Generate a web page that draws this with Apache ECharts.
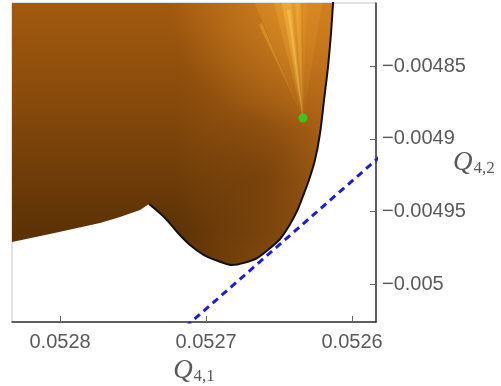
<!DOCTYPE html>
<html>
<head>
<meta charset="utf-8">
<script src="https://cdn.jsdelivr.net/npm/echarts@6/dist/echarts.min.js"></script>
<style>
  html, body { margin: 0; padding: 0; background: #ffffff; }
  #chart { width: 501px; height: 386px; }
</style>
</head>
<body>
<div id="chart"></div>
<script>
// Tick positions
const TICKS_X = [0.0528, 0.0527, 0.0526];
const TICKS_Y = [-0.00485, -0.0049, -0.00495, -0.005];

// Boundary curve of the region (black outline), from above the top edge down to the cusp
const curveX = [0.0526123, 0.0526130, 0.0526144, 0.0526165, 0.0526192, 0.0526219, 0.0526254,
                0.0526295, 0.0526336, 0.0526377, 0.0526432, 0.0526493, 0.0526569, 0.0526651,
                0.0526733, 0.0526822, 0.0526918, 0.0527014, 0.0527110, 0.0527192, 0.0527281,
                0.0527390];
const curveY = [-0.0047978, -0.0048067, -0.0048273, -0.0048507, -0.0048734, -0.0048960, -0.0049146,
                -0.0049283, -0.0049393, -0.0049496, -0.0049599, -0.0049688, -0.0049757, -0.0049819,
                -0.0049850, -0.0049867, -0.0049839, -0.0049798, -0.0049729, -0.0049647, -0.0049544,
                -0.0049448];

// Lower-left edge of the region (no outline), from the cusp out past the left side
const edgeX = [0.0527452, 0.0527589, 0.0527726, 0.0528069, 0.0528329, 0.0528479];
const edgeY = [-0.0049489, -0.0049537, -0.0049578, -0.0049654, -0.0049709, -0.0049743];

// Far corner closing the region above-left of the view
const cornerX = [0.0528479];
const cornerY = [-0.0047978];

// Marked point
const pointX = [0.0526336];
const pointY = [-0.0048857];

// Dashed tangent line
const tangentX = [0.0527264, 0.0525700];
const tangentY = [-0.0050400, -0.0049026];

const polyX = curveX.concat(edgeX, cornerX);
const polyY = curveY.concat(edgeY, cornerY);

const G = echarts.graphic;

function renderRegion(params, api) {
  const pts = polyX.map((x, i) => api.coord([x, polyY[i]]));
  const p = api.coord([pointX[0], pointY[0]]);
  const cs = params.coordSys;
  const top = cs.y - 4;
  const left = cs.x;
  const w = cs.width;

  // soft light ray from the point up to the top edge
  const ray = (dxA, dyA, dxB, dyB, rgb, aTop, aTip) => ({
    type: 'polygon',
    shape: { points: [p, [p[0] + dxA, top + dyA], [p[0] + dxB, top + dyB]] },
    style: {
      fill: new G.LinearGradient(0, 0, 0, 1, [
        { offset: 0, color: 'rgba(' + rgb + ',' + aTop + ')' },
        { offset: 0.6, color: 'rgba(' + rgb + ',' + ((aTop + aTip) / 2) + ')' },
        { offset: 1, color: 'rgba(' + rgb + ',' + aTip + ')' }
      ])
    }
  });

  const body = (fill) => ({ type: 'polygon', shape: { points: pts }, style: { fill: fill } });

  return {
    type: 'group',
    children: [
      // base body shading, lighter at the top
      body(new G.LinearGradient(0, 0, 0, 1, [
        { offset: 0, color: '#a65c10' },
        { offset: 0.35, color: '#8c4d0c' },
        { offset: 0.65, color: '#713e09' },
        { offset: 0.88, color: '#5c3206' },
        { offset: 1, color: '#5e3306' }
      ])),
      // warm light toward the right-hand rim
      body(new G.LinearGradient(left + w * 0.45, 0, left + w * 0.9, 0, [
        { offset: 0, color: 'rgba(200,115,30,0)' },
        { offset: 1, color: 'rgba(210,122,30,0.55)' }
      ], true)),
      // glow from the upper right
      body(new G.RadialGradient(p[0] - 5, top, 130, [
        { offset: 0, color: 'rgba(240,160,45,0.5)' },
        { offset: 1, color: 'rgba(240,160,45,0)' }
      ], true)),
      // shadow falling below-left of the point
      body(new G.RadialGradient(p[0] - 42, p[1] + 60, 75, [
        { offset: 0, color: 'rgba(60,30,4,0.22)' },
        { offset: 1, color: 'rgba(60,30,4,0)' }
      ], true)),
      // bright fan converging on the point
      ray(-50, 0, 4, 0, '250,175,50', 0.22, 0.04),
      ray(-30, 0, -4, 0, '255,190,65', 0.25, 0.12),
      ray(-22, 0, -12, 0, '255,200,80', 0.35, 0.25),
      ray(-16, 12, -13, 10, '255,205,90', 0.45, 0.3),
      ray(-44, 26, -41, 24, '255,190,60', 0.35, 0.1),
      ray(-8, 0, -2, 0, '255,195,70', 0.3, 0.2),
      ray(0, 0, 20, 0, '235,150,45', 0.3, 0.05)
    ]
  };
}

const chart = echarts.init(document.getElementById('chart'), null, { renderer: 'canvas' });

const labelColor = '#595959';
const nameRich = {
  q: { fontFamily: 'Liberation Serif', fontStyle: 'italic', fontSize: 27, color: labelColor },
  s: { fontFamily: 'Liberation Serif', fontSize: 17, color: labelColor, padding: [12, 0, 0, 1] }
};

chart.setOption({
  animation: false,
  backgroundColor: '#ffffff',
  grid: {
    left: 12, right: 125, top: 3, bottom: 64,
    outerBoundsMode: 'none',
    containLabel: false,
    show: true, borderColor: '#c4c4c4', borderWidth: 1
  },
  xAxis: {
    type: 'value',
    inverse: true,
    min: 0.0525836,
    max: 0.0528329,
    axisLine: { show: true, onZero: false, lineStyle: { color: '#333333', width: 1.5 } },
    axisTick: { show: true, inside: true, length: 6, customValues: TICKS_X, lineStyle: { color: '#666666' } },
    axisLabel: {
      customValues: TICKS_X, color: labelColor, fontSize: 20, fontFamily: 'Liberation Sans', margin: 10,
      formatter: v => String(v)
    },
    splitLine: { show: false },
    name: '{q|Q}{s|4,1}',
    nameLocation: 'middle',
    nameGap: 34,
    nameMoveOverlap: false,
    nameTextStyle: { rich: nameRich }
  },
  yAxis: {
    type: 'value',
    position: 'right',
    min: -0.0050258,
    max: -0.0048067,
    axisLine: { show: true, onZero: false, lineStyle: { color: '#333333', width: 1.5 } },
    axisTick: { show: true, inside: true, length: 6, customValues: TICKS_Y, lineStyle: { color: '#666666' } },
    axisLabel: {
      customValues: TICKS_Y, color: labelColor, fontSize: 20, fontFamily: 'Liberation Sans', margin: 6,
      formatter: v => (v < 0 ? '\u2212' : '') + String(Math.abs(v))
    },
    splitLine: { show: false },
    name: '{q|Q}{s|4,2}',
    nameLocation: 'middle',
    nameRotate: 0,
    nameGap: 77,
    nameMoveOverlap: false,
    nameTextStyle: { rich: nameRich }
  },
  series: [
    {
      type: 'custom',
      clip: true,
      z: 1,
      data: [0],
      renderItem: renderRegion,
      silent: true
    },
    {
      type: 'line',
      z: 3,
      data: curveX.map((x, i) => [x, curveY[i]]),
      showSymbol: false,
      smooth: 0.3,
      clip: true,
      lineStyle: { color: '#111111', width: 2 }
    },
    {
      type: 'line',
      z: 4,
      data: tangentX.map((x, i) => [x, tangentY[i]]),
      showSymbol: false,
      clip: true,
      lineStyle: { color: '#1c1ce0', width: 3, type: [7, 5] }
    },
    {
      type: 'scatter',
      z: 5,
      data: pointX.map((x, i) => [x, pointY[i]]),
      symbol: 'circle',
      symbolSize: 9,
      itemStyle: { color: '#22dd22' }
    }
  ]
});
</script>
</body>
</html>
